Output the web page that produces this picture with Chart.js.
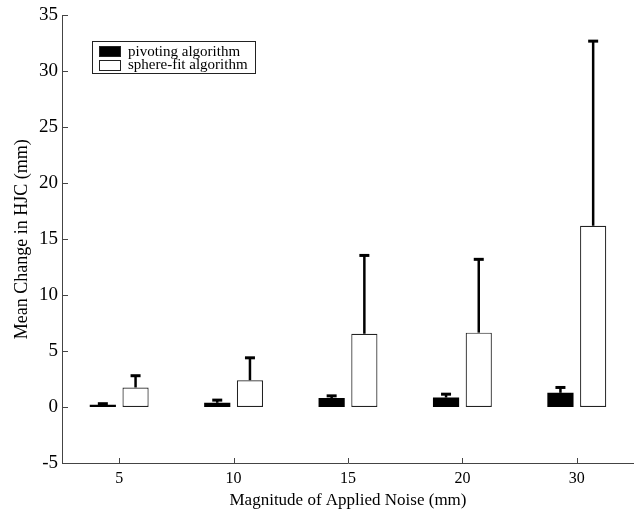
<!DOCTYPE html>
<html>
<head>
<meta charset="utf-8">
<script src="https://cdn.jsdelivr.net/npm/chart.js@4"></script>
<style>
  html, body { margin: 0; padding: 0; background: #fff; }
  #wrap { width: 634px; height: 513px; }
</style>
</head>
<body>
<div id="wrap"><canvas id="chart"></canvas></div>
<script>
// ===== DATA =====
const categories = ["5", "10", "15", "20", "30"];
const pivotMean = [0.2, 0.38, 0.8, 0.85, 1.27];
const pivotSD = [0.1, 0.24, 0.2, 0.3, 0.48];
const sphereMean = [1.75, 2.4, 6.55, 6.65, 16.2];
const sphereSD = [1.05, 2.0, 7.0, 6.55, 16.5];
const yTicks = [-5, 0, 5, 10, 15, 20, 25, 30, 35];

const FONT = "'Liberation Serif', 'Times New Roman', serif";
const AXIS = "#444";

// upper error bars (mean + sd), drawn with the chart's own scales
const errorBars = {
  id: "errorBars",
  afterDatasetsDraw(chart) {
    const ctx = chart.ctx;
    const y = chart.scales.y;
    chart.data.datasets.forEach((ds, i) => {
      const meta = chart.getDatasetMeta(i);
      meta.data.forEach((bar, j) => {
        const top = y.getPixelForValue(ds.data[j] + ds.sd[j]);
        const base = y.getPixelForValue(ds.data[j]);
        ctx.save();
        ctx.strokeStyle = "#000";
        ctx.lineWidth = 2.5;
        ctx.beginPath();
        ctx.moveTo(bar.x, base);
        ctx.lineTo(bar.x, top);
        ctx.stroke();
        ctx.lineWidth = 3;
        ctx.beginPath();
        ctx.moveTo(bar.x - 5, top);
        ctx.lineTo(bar.x + 5, top);
        ctx.stroke();
        ctx.restore();
      });
    });
  }
};

// inward tick marks + boxed legend inside the plot
const decorations = {
  id: "decorations",
  afterDraw(chart) {
    const ctx = chart.ctx;
    const { left, bottom } = chart.chartArea;
    ctx.save();
    ctx.strokeStyle = AXIS;
    ctx.lineWidth = 1;
    chart.scales.y.ticks.forEach((t, i) => {
      const py = Math.round(chart.scales.y.getPixelForTick(i)) + 0.5;
      ctx.beginPath();
      ctx.moveTo(left, py);
      ctx.lineTo(left + 6, py);
      ctx.stroke();
    });
    chart.scales.x.ticks.forEach((t, i) => {
      const px = Math.round(chart.scales.x.getPixelForTick(i)) + 0.5;
      ctx.beginPath();
      ctx.moveTo(px, bottom);
      ctx.lineTo(px, bottom - 5);
      ctx.stroke();
    });

    // legend
    ctx.strokeStyle = "#222";
    ctx.strokeRect(92.5, 41.5, 163, 32);
    ctx.font = "15px " + FONT;
    ctx.textBaseline = "alphabetic";
    chart.data.datasets.forEach((ds, i) => {
      const sy = 46 + i * 14;
      ctx.fillStyle = ds.backgroundColor;
      ctx.fillRect(99, sy, 22, 10);
      ctx.strokeStyle = "#222";
      ctx.strokeRect(99.5, sy + 0.5, 21, 10);
      ctx.fillStyle = "#000";
      ctx.fillText(ds.label, 128, 56 + i * 13);
    });
    ctx.restore();
  }
};

new Chart(document.getElementById("chart"), {
  type: "bar",
  data: {
    labels: categories,
    datasets: [
      {
        label: "pivoting algorithm",
        data: pivotMean,
        sd: pivotSD,
        backgroundColor: "#000",
        borderColor: "#000",
        borderWidth: 0
      },
      {
        label: "sphere-fit algorithm",
        data: sphereMean,
        sd: sphereSD,
        backgroundColor: "#fff",
        borderColor: "#222",
        borderWidth: 1.2,
        borderSkipped: false
      }
    ]
  },
  options: {
    responsive: true,
    maintainAspectRatio: false,
    animation: false,
    categoryPercentage: 0.572,
    barPercentage: 0.8,
    layout: { padding: { top: 14, right: 0, left: 0, bottom: 0 } },
    plugins: {
      legend: { display: false },
      tooltip: { enabled: false }
    },
    scales: {
      x: {
        grid: { display: false, drawTicks: false },
        border: { display: true, color: AXIS, width: 1 },
        ticks: {
          color: "#000",
          padding: 6,
          font: { family: FONT, size: 16 }
        },
        title: {
          display: true,
          text: "Magnitude of Applied Noise (mm)",
          color: "#000",
          font: { family: FONT, size: 17 },
          padding: { top: 0, bottom: 2 }
        },
        afterFit(scale) { scale.height = 50; }
      },
      y: {
        min: -5,
        max: 35,
        afterBuildTicks(scale) { scale.ticks = yTicks.map(v => ({ value: v })); },
        grid: { display: false, drawTicks: false },
        border: { display: true, color: AXIS, width: 1 },
        ticks: {
          color: "#000",
          padding: 4,
          font: { family: FONT, size: 19 }
        },
        title: {
          display: true,
          text: "Mean Change in HJC (mm)",
          color: "#000",
          font: { family: FONT, size: 18 },
          padding: { top: 11, bottom: 0 }
        },
        afterFit(scale) { scale.width = 62; }
      }
    }
  },
  plugins: [errorBars, decorations]
});
</script>
</body>
</html>
